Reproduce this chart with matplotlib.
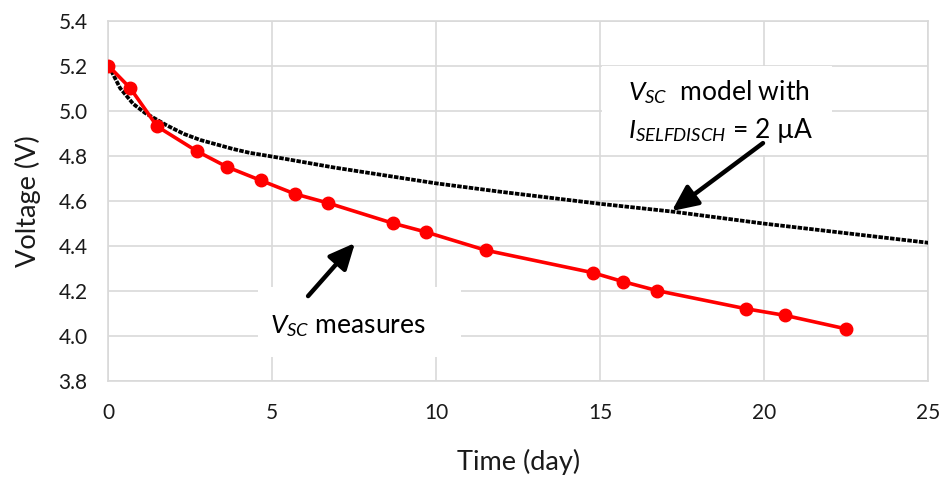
import matplotlib
matplotlib.use("Agg")
import matplotlib.pyplot as plt
from matplotlib.patches import Rectangle

# --- data ---
meas_days = [0, 0.67, 1.49, 2.7, 3.62, 4.65, 5.69, 6.69, 8.67, 9.70, 11.5,
             14.77, 15.70, 16.74, 19.43, 20.64, 22.5]
meas_volts = [5.20, 5.10, 4.93, 4.82, 4.75, 4.69, 4.63, 4.59, 4.50, 4.46, 4.38,
              4.28, 4.24, 4.20, 4.12, 4.09, 4.03]

model_days = [0, 0.15, 0.36, 0.76, 1.12, 1.78, 2.3, 2.8, 3.8, 4.3, 5, 6.86,
              10, 11.94, 15, 17.23, 20, 25]
model_volts = [5.20, 5.16, 5.10, 5.03, 4.99, 4.935, 4.897, 4.870, 4.830, 4.813,
               4.796, 4.748, 4.677, 4.64, 4.586, 4.551, 4.498, 4.413]

x_ticks = [0, 5, 10, 15, 20, 25]
y_ticks = [3.8, 4.0, 4.2, 4.4, 4.6, 4.8, 5.0, 5.2, 5.4]

plt.rcParams['font.family'] = ['Lato', 'DejaVu Sans']
plt.rcParams['mathtext.fontset'] = 'custom'
plt.rcParams['mathtext.rm'] = 'Lato'
plt.rcParams['mathtext.it'] = 'Lato:italic'

fig = plt.figure(figsize=(9.52, 4.78), dpi=100)
ax = fig.add_axes([0.1138, 0.2036, 0.8613, 0.7531])

grid_col = '#D9D9D9'
text_col = '#1a1a1a'

# model curve (dotted) and measured points
ax.plot(model_days, model_volts, color='black', lw=2.7, ls=(0, (1.2, 0.35)),
        zorder=3)
ax.plot(meas_days, meas_volts, color='#FF0000', lw=2.6, marker='o',
        markersize=9, zorder=4)

ax.set_xlim(0, 25)
ax.set_ylim(3.8, 5.4)
ax.set_xticks(x_ticks)
ax.set_yticks(y_ticks)
ax.set_yticklabels([f"{v:.1f}" for v in y_ticks])
ax.tick_params(length=0, labelsize=15, labelcolor=text_col)
ax.tick_params(axis='y', pad=15)
ax.tick_params(axis='x', pad=16)
ax.set_axisbelow(True)
ax.grid(True, color=grid_col, lw=1.2)
for side in ['top', 'right', 'left', 'bottom']:
    ax.spines[side].set_color(grid_col)
    ax.spines[side].set_linewidth(1.2)

ax.set_xlabel("Time (day)", fontsize=19.5, color=text_col)
ax.set_ylabel("Voltage (V)", fontsize=19.5, color=text_col)
ax.xaxis.set_label_coords(0.5, -0.226)
ax.xaxis.label.set_va('center')
ax.yaxis.set_label_coords(-0.098, 0.5)
ax.yaxis.label.set_va('center')

# white text boxes hiding the grid
ax.add_patch(Rectangle((0.602, 0.627), 0.2806, 0.247, transform=ax.transAxes,
                       facecolor='white', edgecolor='none', zorder=1))
ax.add_patch(Rectangle((0.1826, 0.0658), 0.2474, 0.1942, transform=ax.transAxes,
                       facecolor='white', edgecolor='none', zorder=1))

ax.text(0.634, 0.780, r"$V_{SC}$  model with", transform=ax.transAxes,
        fontsize=19, color='black', va='baseline', zorder=5)
ax.text(0.634, 0.674, r"$I_{SELFDISCH}$ = 2 µA", transform=ax.transAxes,
        fontsize=19, color='black', va='baseline', zorder=5)
ax.text(0.197, 0.1325, r"$V_{SC}$ measures", transform=ax.transAxes,
        fontsize=19, color='black', va='baseline', zorder=5)

arrow = dict(arrowstyle='-|>,head_length=0.65,head_width=0.3', lw=3.2,
             color='black', mutation_scale=24, shrinkA=0, shrinkB=0)
ax.annotate("", xy=(17.18, 4.554), xytext=(19.96, 4.856), arrowprops=arrow,
            zorder=6)
ax.annotate("", xy=(7.52, 4.412), xytext=(6.09, 4.176), arrowprops=arrow,
            zorder=6)

fig.savefig("out.png", dpi=100)
